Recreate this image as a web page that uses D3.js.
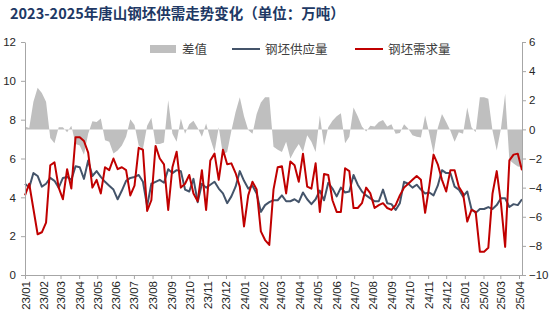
<!DOCTYPE html>
<html>
<head>
<meta charset="utf-8">
<script src="https://cdn.jsdelivr.net/npm/d3@7"></script>
<style>
  body { margin: 0; background: #fff; }
  svg { display: block; font-family: "Liberation Sans", Arial, sans-serif; }
</style>
</head>
<body>
<svg id="chart"></svg>
<script>
const width = 554, height = 333

// weekly observations, first week 2023-01-01
const start_date = new Date(2023, 0, 1)
const end_date = new Date(2025, 3, 6)

// 钢坯供应量 (万吨, left axis)
const supply = [
    4.7, 4.5, 5.25, 5.1, 4.55, 4.7, 5.0, 4.85, 4.5, 5.0,
    5.05, 4.9, 5.6, 5.55, 4.95, 5.9, 5.1, 5.35, 5.05, 4.8,
    4.6, 4.4, 3.9, 4.35, 4.85, 5.0, 5.05, 5.15, 4.8, 3.55,
    4.7, 4.8, 4.9, 4.75, 5.45, 5.25, 5.4, 5.35, 4.4, 4.3,
    4.95, 3.75, 4.7, 4.5, 4.65, 4.8, 4.45, 4.2, 3.7, 4.05,
    4.55, 5.35, 4.85, 4.45, 4.6, 4.2, 3.25, 3.6, 3.75, 3.85,
    3.85, 4.1, 3.8, 3.8, 3.9, 3.75, 4.25, 3.9, 3.65, 3.9,
    4.35, 3.85, 4.75, 4.45, 4.05, 4.5, 4.25, 4.3, 5.15, 4.65,
    4.3, 4.1, 3.95, 3.8, 3.8, 4.4, 3.7, 3.65, 3.35, 3.7,
    4.8, 4.7, 4.5, 4.65, 4.4, 4.2, 4.25, 4.1, 4.6, 5.4,
    5.25, 5.25, 4.55, 4.4, 4.05, 4.3, 3.4, 3.2, 3.4, 3.4,
    3.5, 3.4, 3.6, 3.95, 3.95, 3.5, 3.65, 3.6, 3.9
]

// 钢坯需求量 (万吨, left axis)
const demand = [
    4.1, 4.7, 3.4, 2.1, 2.2, 2.7, 5.65, 5.8, 4.5, 3.9,
    5.45, 4.45, 7.1, 7.1, 6.9, 6.3, 4.5, 4.9, 4.2, 5.55,
    5.4, 6.0, 5.45, 5.55, 5.4, 4.1, 4.6, 6.55, 6.45, 3.3,
    3.85, 6.65, 6.0, 5.7, 3.35, 5.55, 6.35, 4.5, 4.7, 5.15,
    4.2, 3.8, 5.4, 3.35, 5.9, 6.25, 4.9, 6.45, 5.7, 5.75,
    5.25, 4.55, 2.5, 4.1, 4.8, 4.4, 2.25, 1.8, 1.55, 4.4,
    5.55, 5.6, 4.2, 5.85, 5.65, 4.8, 6.25, 4.55, 4.45, 5.75,
    3.25, 5.2, 5.15, 3.85, 3.25, 3.25, 5.5, 5.35, 3.45, 3.45,
    3.7, 4.5, 4.2, 3.45, 3.6, 3.7, 3.45, 3.35, 3.6, 4.1,
    4.5, 4.7, 4.9, 5.1, 4.9, 3.2, 4.6, 6.2, 5.7, 4.9,
    4.3, 5.4, 5.4, 4.55, 4.2, 2.75, 3.35, 3.25, 1.2, 1.2,
    1.4, 4.2, 5.35, 3.7, 1.45, 5.9, 6.2, 6.25, 5.4
]

// 差值 (right axis)
const diff = [
    0.2, 0.1, 1.9, 2.85, 2.5, 1.9, -0.6, -0.95, 0.15, 0.15,
    -0.2, 0.25, -1.0, -1.1, -1.75, -0.3, 0.55, 0.5, 0.75, -0.75,
    -0.85, -1.65, -1.45, -1.1, -0.5, 0.7, 0.3, -1.1, -1.35, 0.25,
    0.8, -1.0, -1.0, -0.9, 2.0, -0.3, -0.85, 0.75, -0.3, 0.35,
    0.6, 0.1, -0.5, 0.4, -0.65, -1.55, 0.15, -1.75, -1.55, -0.1,
    1.2, 2.2, 0.9, -0.05, -0.3, 1.05, 1.85, 2.2, 2.2, -1.2,
    -1.4, -1.55, -0.85, -2.0, -1.45, -1.0, -1.55, -0.4, -0.85, -1.55,
    0.95, -1.1, 0.15, 0.6, 0.9, 1.1, -0.95, -0.5, 1.5, 0.9,
    0.2, -0.15, 0.25, 0.2, 0.5, 0.65, 0.2, 0.35, -0.3, -0.25,
    0.35, 0.05, -0.4, -0.5, -0.55, 0.95, -0.3, -1.65, 0.1, 1.05,
    0.5, -0.1, -0.85, -0.2, -0.3, 1.5, 0.15, -0.2, 2.2, 2.2,
    2.1, -0.1, -1.45, 0.05, 2.45, -2.1, -2.35, -2.55, -2.6
]

const left_ticks = [0, 2, 4, 6, 8, 10, 12]
const right_ticks = [-10, -8, -6, -4, -2, 0, 2, 4, 6]

const title_text = "2023-2025年唐山钢坯供需走势变化（单位：万吨）"
const legend_names = ["差值", "钢坯供应量", "钢坯需求量"]

const dates = supply.map((v, i) => d3.timeDay.offset(start_date, 7 * i))

const margin = {left: 25, right: 32, top: 42, bottom: 58}

const svg = d3.select("#chart")
    .attr("width", width)
    .attr("height", height)

const x = d3.scaleTime()
    .domain([start_date, end_date])
    .range([margin.left, width - margin.right])

const y_left = d3.scaleLinear()
    .domain([0, 12])
    .range([height - margin.bottom, margin.top])

const y_right = d3.scaleLinear()
    .domain([-10, 6])
    .range([height - margin.bottom, margin.top])

// title
svg.append("text")
    .attr("x", 10)
    .attr("y", 19)
    .attr("font-size", 14.5)
    .attr("font-weight", "bold")
    .attr("fill", "#203864")
    .attr("font-family", "'Noto Sans CJK SC', sans-serif")
    .text(title_text)

// difference area
let area = d3.area()
    .x((d, i) => x(dates[i]))
    .y0(y_right(0))
    .y1(d => y_right(d))

svg.append("path")
    .datum(diff)
    .attr("fill", "#bfbfbf")
    .attr("d", area)

let line = y => d3.line()
    .x((d, i) => x(dates[i]))
    .y(d => y(d))

svg.append("path")
    .datum(supply)
    .attr("fill", "none")
    .attr("stroke", "#44546a")
    .attr("stroke-width", 2)
    .attr("stroke-linejoin", "round")
    .attr("d", line(y_left))

svg.append("path")
    .datum(demand)
    .attr("fill", "none")
    .attr("stroke", "#c00000")
    .attr("stroke-width", 2)
    .attr("stroke-linejoin", "round")
    .attr("d", line(y_left))

// axes
function style_axis(g) {
    g.selectAll(".domain").attr("stroke", "#a6a6a6")
    g.selectAll(".tick line").attr("stroke", "#a6a6a6")
    g.selectAll("text")
        .attr("fill", "#262626")
        .attr("font-size", 11.5)
        .attr("font-family", "'Liberation Sans', Arial, sans-serif")
}

svg.append("g")
    .attr("transform", `translate(${margin.left},0)`)
    .call(d3.axisLeft(y_left).tickValues(left_ticks).tickSize(4).tickPadding(5).tickSizeOuter(0))
    .call(style_axis)

svg.append("g")
    .attr("transform", `translate(${width - margin.right},0)`)
    .call(d3.axisRight(y_right).tickValues(right_ticks).tickSize(4).tickPadding(3).tickSizeOuter(0)
        .tickFormat(d => d < 0 ? "\u2212" + Math.abs(d) : d))
    .call(style_axis)

let x_axis = svg.append("g")
    .attr("transform", `translate(0,${height - margin.bottom})`)
    .call(d3.axisBottom(x).ticks(d3.timeMonth.every(1)).tickFormat(d3.timeFormat("%y/%m")).tickSize(4).tickSizeOuter(0))
    .call(style_axis)

x_axis.selectAll("text")
    .attr("transform", "rotate(-90)")
    .attr("text-anchor", "end")
    .attr("dy", "0.35em")
    .attr("y", 0)
    .attr("x", -6)

// legend
const legend = svg.append("g")
    .attr("font-size", 12.5)
    .attr("fill", "#404040")
    .attr("font-family", "'Noto Sans CJK SC', sans-serif")

legend.append("rect")
    .attr("x", 150).attr("y", 45)
    .attr("width", 26).attr("height", 8)
    .attr("fill", "#bfbfbf")
legend.append("text").attr("x", 182).attr("y", 54).text(legend_names[0])

legend.append("line")
    .attr("x1", 232).attr("x2", 260).attr("y1", 49).attr("y2", 49)
    .attr("stroke", "#44546a").attr("stroke-width", 2)
legend.append("text").attr("x", 265).attr("y", 54).text(legend_names[1])

legend.append("line")
    .attr("x1", 355).attr("x2", 383).attr("y1", 49).attr("y2", 49)
    .attr("stroke", "#c00000").attr("stroke-width", 2)
legend.append("text").attr("x", 388).attr("y", 54).text(legend_names[2])
</script>
</body>
</html>
